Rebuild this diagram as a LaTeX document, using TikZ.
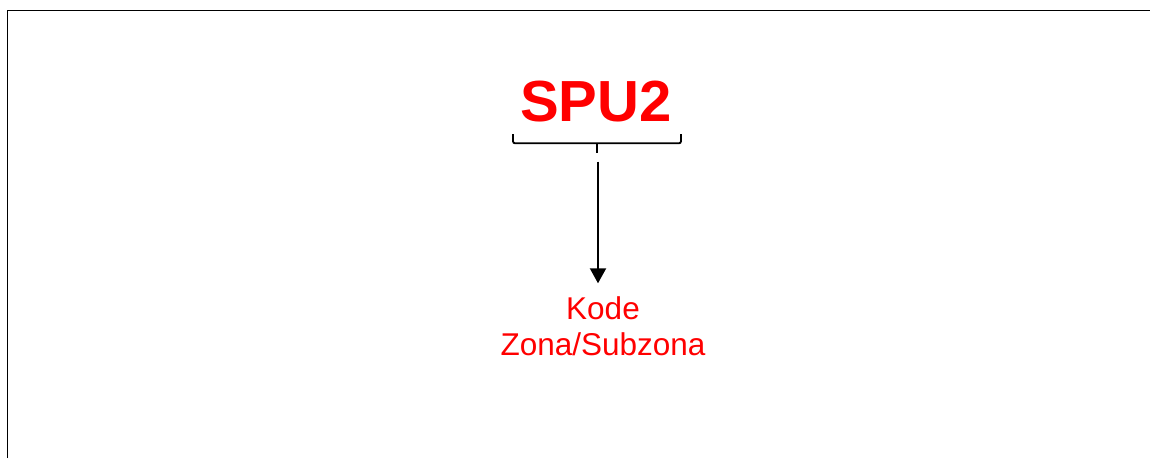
\documentclass[tikz,border=0pt]{standalone}
\usepackage{fontspec}
\setmainfont{Liberation Sans}
\usetikzlibrary{arrows.meta}
\definecolor{codered}{RGB}{255,0,0}
\begin{document}
\begin{tikzpicture}[x=1pt,y=-1pt,
  title/.style={text=codered,font=\fontsize{58}{66}\selectfont\bfseries,inner sep=0pt,anchor=base},
  label/.style={text=codered,font=\fontsize{31.5}{35.7}\selectfont,align=center,inner sep=0pt,anchor=base},
  bracket/.style={line width=1.8pt,rounded corners=2pt},
  pointer/.style={line width=2pt,-{Triangle[length=15pt,width=16pt]}},
  frame/.style={line width=1.6pt}]
  \useasboundingbox (0,0) rectangle (1150,458);
  % frame edges along the top and left side
  \draw[frame] (7.5,458) -- (7.5,10.5) -- (1150,10.5);
  % code and its meaning (base anchor sits on the last line)
  \node[title] (code) at (596,121.7) {SPU2};
  \node[label] (meaning) at (603,355) {Kode\\Zona/Subzona};
  % bracket under the code
  \coordinate (bl) at (513,134);
  \coordinate (br) at (681,134);
  \coordinate (bmid) at (597,143.3);
  \draw[bracket] (bl) -- (513,143.3) -- (681,143.3) -- (br);
  \coordinate (tick) at (597,152.7);
  \draw[line width=1.8pt] (bmid) -- (tick);
  % pointer down to the meaning
  \coordinate (from) at (598,161.7);
  \coordinate (to) at (598,283.3);
  \draw[pointer] (from) -- (to);
\end{tikzpicture}
\end{document}
